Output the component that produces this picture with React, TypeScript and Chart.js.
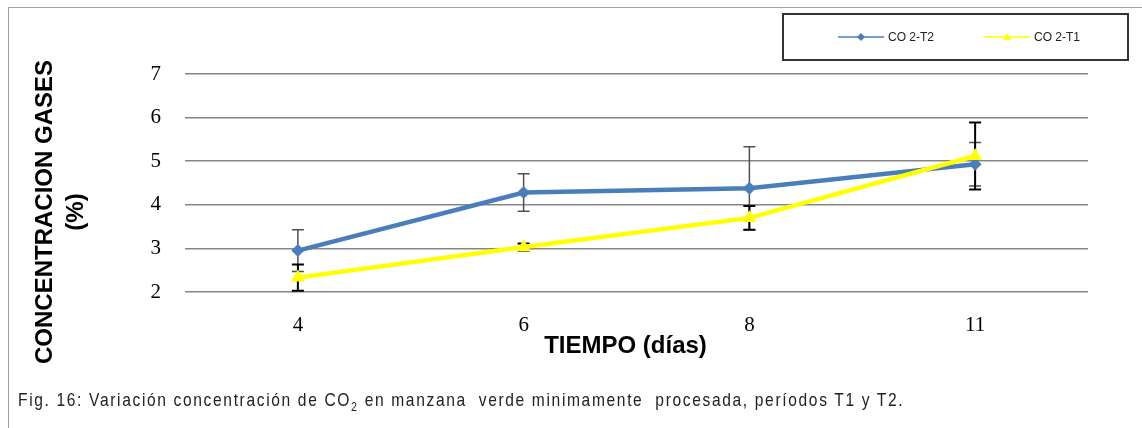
import React, { useEffect, useRef } from 'react';
import { Chart, registerables } from 'chart.js';

Chart.register(...registerables);

const categories = ['4', '6', '8', '11'];
const seriesT2 = [2.95, 4.28, 4.38, 4.93];
const seriesT1 = [2.33, 3.03, 3.7, 5.12];
const errorT2 = [0.48, 0.43, 0.95, 0.5];
const errorT1 = [0.3, 0.08, 0.27, 0.77];
const yMin = 2;
const yMax = 7;
const yStep = 1;
const labelT2 = 'CO 2-T2';
const labelT1 = 'CO 2-T1';
const yTitleLines = ['CONCENTRACION GASES', '(%)'];
const xTitle = 'TIEMPO (días)';

const BLUE = '#4a7ebb';
const YELLOW = '#ffff00';

const errorBarPlugin = {
  id: 'errorBars',
  beforeDatasetsDraw(chart: any) {
    const ctx = chart.ctx;
    const xs = chart.scales.x;
    const ys = chart.scales.y;
    chart.data.datasets.forEach((ds: any) => {
      if (!ds.errors) return;
      ctx.save();
      ctx.strokeStyle = ds.errorColor;
      ctx.lineWidth = ds.errorWidth;
      ds.data.forEach((v: number, i: number) => {
        const px = xs.getPixelForValue(i);
        const top = ys.getPixelForValue(v + ds.errors[i]);
        const bot = ys.getPixelForValue(v - ds.errors[i]);
        ctx.beginPath();
        ctx.moveTo(px, top);
        ctx.lineTo(px, bot);
        ctx.moveTo(px - 6, top);
        ctx.lineTo(px + 6, top);
        ctx.moveTo(px - 6, bot);
        ctx.lineTo(px + 6, bot);
        ctx.stroke();
      });
      ctx.restore();
    });
  },
};

const decorPlugin = {
  id: 'decor',
  afterDraw(chart: any) {
    const ctx = chart.ctx;
    const area = chart.chartArea;
    ctx.save();
    // y-axis title
    ctx.fillStyle = '#000';
    ctx.font = 'bold 24px "Liberation Sans", Arial, sans-serif';
    ctx.textAlign = 'center';
    ctx.textBaseline = 'middle';
    ctx.save();
    ctx.translate(45, 212);
    ctx.rotate(-Math.PI / 2);
    yTitleLines.forEach((t, i) => ctx.fillText(t, 0, i * 31));
    ctx.restore();
    // x-axis title
    ctx.font = 'bold 24px "Liberation Sans", Arial, sans-serif';
    ctx.fillText(xTitle, (area.left + area.right) / 2 - 11, 346);
    // legend
    ctx.strokeStyle = '#333';
    ctx.lineWidth = 2;
    ctx.strokeRect(783, 14, 345, 46);
    const items = [
      { ds: chart.data.datasets[0], x: 838 },
      { ds: chart.data.datasets[1], x: 984 },
    ];
    items.forEach(({ ds, x }) => {
      const y = 37;
      ctx.strokeStyle = ds.borderColor;
      ctx.lineWidth = 1.5;
      ctx.beginPath();
      ctx.moveTo(x, y);
      ctx.lineTo(x + 46, y);
      ctx.stroke();
      ctx.fillStyle = ds.backgroundColor;
      ctx.beginPath();
      if (ds.pointStyle === 'triangle') {
        ctx.moveTo(x + 23, y - 4);
        ctx.lineTo(x + 27, y + 3);
        ctx.lineTo(x + 19, y + 3);
      } else {
        ctx.moveTo(x + 23, y - 4);
        ctx.lineTo(x + 27, y);
        ctx.lineTo(x + 23, y + 4);
        ctx.lineTo(x + 19, y);
      }
      ctx.closePath();
      ctx.fill();
      ctx.fillStyle = '#222';
      ctx.font = '12px "Liberation Sans", Arial, sans-serif';
      ctx.textAlign = 'left';
      ctx.textBaseline = 'middle';
      ctx.fillText(ds.label, x + 50, y + 1);
    });
    ctx.restore();
  },
};

export default function App() {
  const canvasRef = useRef<HTMLCanvasElement | null>(null);

  useEffect(() => {
    if (!canvasRef.current) return;
    const chart = new Chart(canvasRef.current, {
      type: 'line',
      data: {
        labels: categories,
        datasets: [
          {
            label: labelT2,
            data: seriesT2,
            borderColor: BLUE,
            backgroundColor: BLUE,
            borderWidth: 4.5,
            pointStyle: 'rectRot',
            pointRadius: 6.5,
            pointBorderWidth: 0,
            tension: 0,
            order: 1,
            errors: errorT2,
            errorColor: '#505050',
            errorWidth: 1.5,
          } as any,
          {
            label: labelT1,
            data: seriesT1,
            borderColor: YELLOW,
            backgroundColor: YELLOW,
            borderWidth: 4.5,
            pointStyle: 'triangle',
            pointRadius: 8,
            pointBorderWidth: 0,
            tension: 0,
            order: 0,
            errors: errorT1,
            errorColor: '#000000',
            errorWidth: 2,
          } as any,
        ],
      },
      options: {
        responsive: true,
        maintainAspectRatio: false,
        animation: false,
        events: [],
        layout: { padding: { top: 74, right: 54, bottom: 96, left: 0 } },
        plugins: {
          legend: { display: false },
          tooltip: { enabled: false },
          title: { display: false },
        },
        scales: {
          x: {
            offset: true,
            grid: { display: false, drawTicks: false },
            border: { display: false },
            ticks: {
              color: '#000',
              padding: 21,
              font: { family: '"Liberation Serif", "Times New Roman", serif', size: 21 },
            },
            afterFit(scale: any) {
              scale.height = 40;
            },
          },
          y: {
            min: yMin,
            max: yMax,
            grid: { color: '#868686', lineWidth: 1.5, drawTicks: false },
            border: { display: false },
            ticks: {
              stepSize: yStep,
              color: '#000',
              padding: 24,
              font: { family: '"Liberation Serif", "Times New Roman", serif', size: 21 },
            },
            afterFit(scale: any) {
              scale.width = 185;
            },
          },
        },
      },
      plugins: [errorBarPlugin, decorPlugin],
    });
    return () => chart.destroy();
  }, []);

  return (
    <div style={{ position: 'absolute', left: 0, top: 0, width: 1142, height: 428, background: '#fff', overflow: 'hidden' }}>
      <div
        style={{
          position: 'absolute',
          left: 8,
          top: 7,
          right: 0,
          bottom: 0,
          borderLeft: '1px solid #a0a0a0',
          borderTop: '1px solid #a0a0a0',
        }}
      />
      <canvas ref={canvasRef} style={{ position: 'absolute', left: 0, top: 0, width: 1142, height: 428 }} />
      <div
        style={{
          position: 'absolute',
          left: 18,
          top: 389,
          fontFamily: '"Liberation Sans", Arial, sans-serif',
          fontSize: 19,
          letterSpacing: 2,
          color: '#222',
          whiteSpace: 'pre',
          transform: 'scaleX(0.82)',
          transformOrigin: '0 0',
        }}
      >
        Fig. 16: Variación concentración de CO<sub style={{ fontSize: 13 }}>2</sub> en manzana  verde minimamente  procesada, períodos T1 y T2.
      </div>
    </div>
  );
}
